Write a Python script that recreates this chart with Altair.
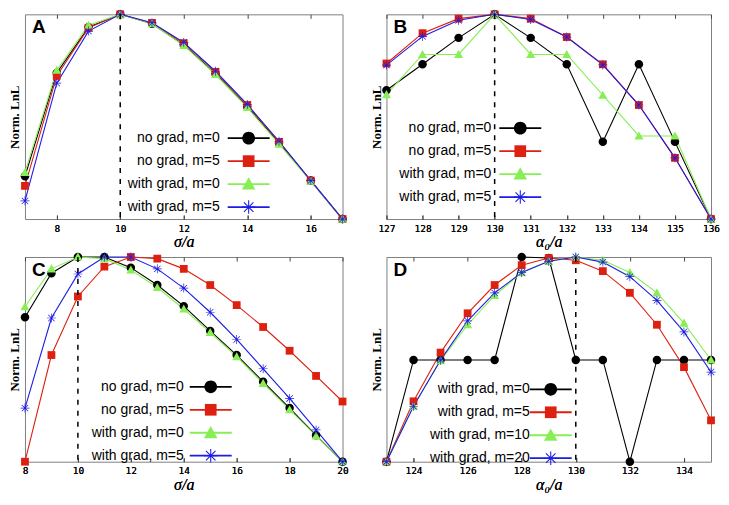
import altair as alt
import pandas as pd

# ---------------- data ----------------
labels_abc = ["no grad, m=0", "no grad, m=5", "with grad, m=0", "with grad, m=5"]
labels_d = ["with grad, m=0", "with grad, m=5", "with grad, m=10", "with grad, m=20"]

a_x = [7, 8, 9, 10, 11, 12, 13, 14, 15, 16, 17]
a_s0 = [0.209, 0.714, 0.937, 1.0, 0.954, 0.851, 0.710, 0.549, 0.372, 0.188, 0.0]
a_s1 = [0.162, 0.699, 0.934, 1.0, 0.958, 0.859, 0.719, 0.557, 0.377, 0.188, 0.0]
a_s2 = [0.228, 0.727, 0.947, 1.0, 0.954, 0.848, 0.706, 0.545, 0.366, 0.185, 0.0]
a_s3 = [0.089, 0.664, 0.918, 1.0, 0.959, 0.863, 0.722, 0.560, 0.380, 0.188, 0.0]

b_x = [127, 128, 129, 130, 131, 132, 133, 134, 135, 136]
b_s0 = [0.629, 0.756, 0.885, 1.0, 0.885, 0.756, 0.377, 0.756, 0.377, 0.0]
b_s1 = [0.760, 0.908, 0.979, 1.0, 0.979, 0.889, 0.756, 0.557, 0.299, 0.0]
b_s2 = [0.608, 0.804, 0.804, 1.0, 0.804, 0.804, 0.605, 0.406, 0.406, 0.0]
b_s3 = [0.752, 0.892, 0.971, 1.0, 0.975, 0.889, 0.753, 0.557, 0.299, 0.0]

c_x = [8, 9, 10, 11, 12, 13, 14, 15, 16, 17, 18, 19, 20]
c_s0 = [0.706, 0.921, 1.0, 1.0, 0.948, 0.863, 0.760, 0.639, 0.521, 0.391, 0.262, 0.129, 0.0]
c_s1 = [0.0, 0.521, 0.807, 0.953, 1.0, 0.992, 0.942, 0.863, 0.765, 0.658, 0.542, 0.419, 0.294]
c_s2 = [0.757, 0.942, 1.0, 0.992, 0.937, 0.851, 0.746, 0.631, 0.513, 0.383, 0.254, 0.126, 0.0]
c_s3 = [0.262, 0.702, 0.917, 1.0, 1.0, 0.942, 0.848, 0.730, 0.597, 0.454, 0.309, 0.155, 0.0]

d_x = [123, 124, 125, 126, 127, 128, 129, 130, 131, 132, 133, 134, 135]
d_s0 = [0.0, 0.497, 0.497, 0.497, 0.497, 1.0, 0.995, 0.497, 0.497, 0.0, 0.497, 0.497, 0.497]
d_s1 = [0.0, 0.295, 0.533, 0.725, 0.863, 0.960, 0.995, 0.984, 0.931, 0.825, 0.669, 0.462, 0.202]
d_s2 = [0.0, 0.271, 0.494, 0.669, 0.812, 0.924, 0.979, 1.0, 0.984, 0.924, 0.825, 0.677, 0.497]
d_s3 = [0.0, 0.271, 0.497, 0.688, 0.825, 0.924, 0.979, 1.0, 0.975, 0.904, 0.788, 0.634, 0.438]

a_ticks = [8, 10, 12, 14, 16]
b_ticks = [127, 128, 129, 130, 131, 132, 133, 134, 135, 136]
c_ticks = [8, 10, 12, 14, 16, 18, 20]
d_ticks = [124, 126, 128, 130, 132, 134]

# ---------------- styling ----------------
colors = ["#000000", "#dd2010", "#88ee55", "#1c1ce6"]
EXT = "M0,-1M0,1"  # invisible extent so every legend symbol has the same height
shapes = [
    EXT + "M0.85,0A0.85,0.85 0 1,1 -0.85,0A0.85,0.85 0 1,1 0.85,0Z",
    EXT + "M-0.78,-0.78H0.78V0.78H-0.78Z",
    EXT + "M0,-0.9L0.9,0.72H-0.9Z",
    EXT + "M-0.9,-0.07H0.9V0.07H-0.9Z M-0.07,-0.9H0.07V0.9H-0.07Z "
    "M0.585,0.687L-0.687,-0.585L-0.585,-0.687L0.687,0.585Z "
    "M0.687,-0.585L-0.585,0.687L-0.687,0.585L0.585,-0.687Z",
]
line_symbol = EXT + "M-2.8,0H2.8"
keys = ["k0", "k1", "k2", "k3"]
H = 205
SYM = 225
HALF = 8.5


def panel(xs, series, labels, letter, vline, xdom, ticks, xtitle, w, cx, cy, gap):
    # cx, cy: centre of the first legend marker; gap: label end -> marker centre
    lx = cx - HALF
    ly = cy - HALF
    loff = {"expr": str(-(HALF + gap))}
    rows = []
    for i, vals in enumerate(series):
        for x, v in zip(xs, vals):
            rows.append({"x": x, "y": v, "series": labels[i], "lkey": keys[i]})
    df = pd.DataFrame(rows)
    xscale = alt.Scale(domain=xdom, nice=False, zero=False)
    yscale = alt.Scale(domain=[0, 1], nice=False, zero=False)
    bottom_axis = alt.Axis(
        orient="bottom", values=ticks, title=xtitle, offset=-4, tickSize=4,
        domain=False, grid=False, labelFlush=False, labelOverlap=False,
        labelFont="DejaVu Sans Mono", labelFontSize=9.5, labelColor="black",
        labelPadding=4, tickColor="#444444", format="d",
        titleFont="Liberation Serif", titleFontSize=16, titleFontStyle="italic",
        titleFontWeight="normal", titleColor="black", titlePadding=1,
    )
    top_axis = alt.Axis(
        orient="top", values=ticks, title=None, labels=False, offset=-4,
        tickSize=4, domain=True, domainOpacity=0, grid=False, tickColor="#444444",
    )
    yaxis = alt.Axis(
        orient="left", title="Norm. LnL", labels=False, ticks=False, domain=True,
        domainOpacity=0, grid=False,
        titleFont="Liberation Serif", titleFontSize=13, titleFontWeight="bold",
        titleColor="black", titlePadding=3,
    )
    common = dict(
        orient="none", legendX=lx, legendY=ly, direction="vertical", title=None,
        symbolSize=SYM, symbolStrokeWidth=1.8, rowPadding=0,
        padding=0, labelAlign="right", labelOffset=loff,
        labelFont="Liberation Sans", labelFontSize=14, labelLimit=0,
    )
    line_legend = alt.Legend(
        symbolType=line_symbol, labelExpr="''", labelColor="black", **common
    )
    mark_legend = alt.Legend(
        labelColor="black", symbolOpacity=1, symbolStrokeColor="transparent", **common
    )
    lines = alt.Chart(df).mark_line(strokeWidth=1.1).encode(
        x=alt.X("x:Q", scale=xscale, axis=bottom_axis),
        y=alt.Y("y:Q", scale=yscale, axis=yaxis),
        stroke=alt.Stroke("lkey:N", scale=alt.Scale(domain=keys, range=colors),
                          legend=line_legend),
    )
    points = alt.Chart(df).mark_point(filled=True, size=100, opacity=1).encode(
        x=alt.X("x:Q", scale=xscale, axis=bottom_axis),
        y=alt.Y("y:Q", scale=yscale, axis=yaxis),
        color=alt.Color("series:N", scale=alt.Scale(domain=labels, range=colors),
                        legend=mark_legend),
        shape=alt.Shape("series:N", scale=alt.Scale(domain=labels, range=shapes),
                        legend=mark_legend),
    )
    rule = alt.Chart(pd.DataFrame({"x": [vline]})).mark_rule(
        color="black", strokeDash=[5, 6], strokeWidth=1.5
    ).encode(x=alt.X("x:Q", scale=xscale, axis=top_axis))
    text = alt.Chart(pd.DataFrame({"t": [letter]})).mark_text(
        align="left", baseline="top", font="Liberation Sans", fontSize=19,
        fontWeight="bold", color="black",
    ).encode(text="t:N", x=alt.value(7), y=alt.value(4))
    return alt.layer(lines, points, rule, text).properties(width=w, height=H)


pa = panel(a_x, [a_s0, a_s1, a_s2, a_s3], labels_abc, "A", 10, [7, 17], a_ticks,
           "σ/a", 318, 224, 124, 29)
pb = panel(b_x, [b_s0, b_s1, b_s2, b_s3], labels_abc, "B", 130, [127, 136], b_ticks,
           "α₀/a", 325, 134, 114, 29)
pc = panel(c_x, [c_s0, c_s1, c_s2, c_s3], labels_abc, "C", 10, [8, 20], c_ticks,
           "σ/a", 318, 186, 130, 27)
pd_ = panel(d_x, [d_s0, d_s1, d_s2, d_s3], labels_d, "D", 130, [123, 135], d_ticks,
            "α₀/a", 325, 164.5, 132.5, 21)

chart = alt.concat(
    pa, pb, pc, pd_, columns=2, spacing={"row": 38, "column": 44}, bounds="flush"
).resolve_scale(
    x="independent", y="independent", color="independent", shape="independent",
    stroke="independent",
).resolve_legend(
    color="independent", shape="independent", stroke="independent"
).properties(
    padding=0
).configure_view(
    stroke="#808080", strokeWidth=1
)

chart.save("out.html", embed_options={"renderer": "svg", "actions": False})
